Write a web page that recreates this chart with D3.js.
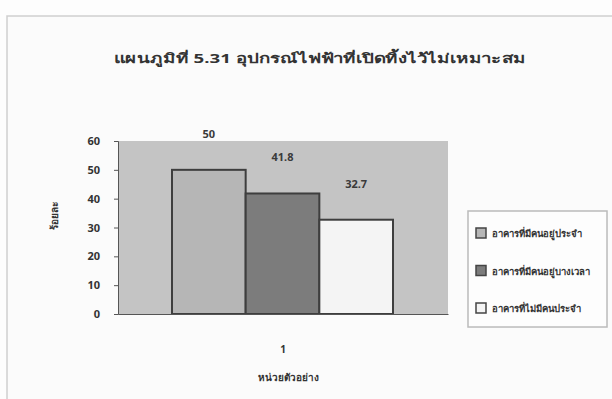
<!DOCTYPE html>
<html><head><meta charset="utf-8">
<script src="https://cdn.jsdelivr.net/npm/d3@7/dist/d3.min.js"></script>
<style>body{margin:0;background:#fdfdfd}svg{display:block}text{font-family:"Noto Sans","DejaVu Sans",sans-serif;fill:#333}</style>
</head><body><svg id="c" width="612" height="399"></svg>
<script>
const title = "แผนภูมิที่ 5.31 อุปกรณ์ไฟฟ้าที่เปิดทิ้งไว้ไม่เหมาะสม";
const categories = ["1"];
const seriesNames = ["อาคารที่มีคนอยู่ประจำ", "อาคารที่มีคนอยู่บางเวลา", "อาคารที่ไม่มีคนประจำ"];
const seriesValues = [50, 41.8, 32.7];
const valueLabels = ["50", "41.8", "32.7"];
const yTicks = [0, 10, 20, 30, 40, 50, 60];
const yTitle = "ร้อยละ";
const xTitle = "หน่วยตัวอย่าง";
const colors = ["#b6b6b6", "#7c7c7c", "#f4f4f4"];

const svg = d3.select("#c");
// outer frame
svg.append("rect").attr("x",7).attr("y",16).attr("width",620).attr("height",400)
  .attr("fill","#fbfbfb").attr("stroke","#cfcfcf").attr("stroke-width",1.5);

const L=118,R=448,T=141,B=314;
const y = d3.scaleLinear().domain([0,60]).range([B,T]);
const x0 = d3.scaleBand().domain(categories).range([L,R]);
const x1 = d3.scaleBand().domain(d3.range(seriesValues.length)).range([172-L, 393-L]).padding(0);

svg.append("rect").attr("x",L).attr("y",T).attr("width",R-L).attr("height",B-T).attr("fill","#c4c4c4");

const g = svg.append("g");
categories.forEach(c=>{
  seriesValues.forEach((v,i)=>{
    g.append("rect").attr("x",x0(c)+x1(i)).attr("y",y(v)).attr("width",x1.bandwidth()).attr("height",y(0)-y(v))
      .attr("fill",colors[i]).attr("stroke","#3e3e3e").attr("stroke-width",2);
    g.append("text").attr("x",x0(c)+x1(i)+x1.bandwidth()/2).attr("y",y(v)-32)
      .attr("text-anchor","middle").attr("font-size",11).attr("font-weight","bold").style("fill","#3a3a3a").text(valueLabels[i]);
  });
});

const ya = svg.append("g").attr("transform",`translate(${L},0)`).call(d3.axisLeft(y).tickValues(yTicks).tickSize(4).tickPadding(14));
ya.selectAll("text").attr("font-size",11).attr("font-weight","bold").style("fill","#333");
ya.selectAll("path,line").attr("stroke","#555");
const xa = svg.append("g").attr("transform",`translate(0,${B})`).call(d3.axisBottom(x0).tickSize(0).tickPadding(32));
xa.selectAll("text").attr("font-size",10).attr("font-weight","bold").style("fill","#333");
xa.select("path").attr("stroke","#555");

svg.append("text").attr("x",320).attr("y",63).attr("text-anchor","middle").attr("font-size",13).attr("font-weight","bold")
  .attr("textLength",412).attr("lengthAdjust","spacingAndGlyphs").text(title);
svg.append("text").attr("transform","translate(58,216) rotate(-90)").attr("text-anchor","middle").attr("font-size",10).attr("font-weight","bold").text(yTitle);
svg.append("text").attr("x",288).attr("y",381).attr("text-anchor","middle").attr("font-size",10).attr("font-weight","bold").text(xTitle);

// legend
const lg = svg.append("g");
lg.append("rect").attr("x",468).attr("y",211).attr("width",139).attr("height",116).attr("fill","#fdfdfd").attr("stroke","#bbb").attr("stroke-width",1.5);
seriesNames.forEach((n,i)=>{
  const yy = 233 + i*37.5;
  lg.append("rect").attr("x",476).attr("y",yy-5).attr("width",10).attr("height",10).attr("fill",colors[i]).attr("stroke","#444").attr("stroke-width",1.5);
  lg.append("text").attr("x",492).attr("y",yy+4).attr("font-size",9.5).attr("font-weight","bold").text(n);
});
</script></body></html>
